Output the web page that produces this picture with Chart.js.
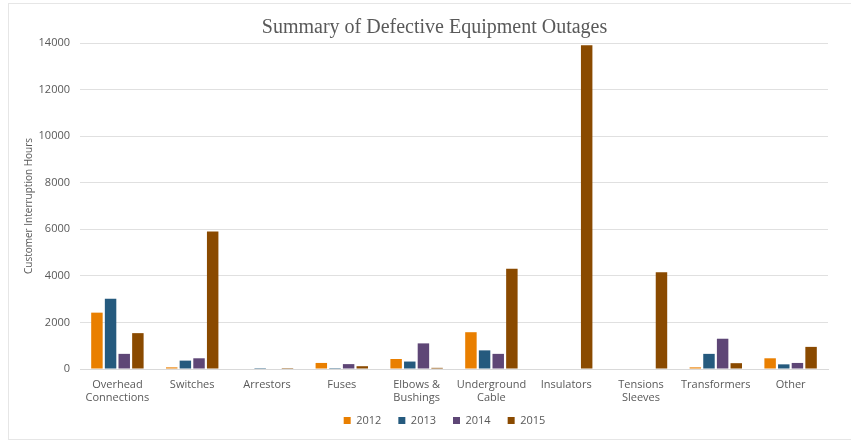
<!DOCTYPE html>
<html>
<head>
<meta charset="utf-8">
<script src="https://cdn.jsdelivr.net/npm/chart.js@4"></script>
<style>
  html, body { margin: 0; padding: 0; background: #fff; }
  #frame { position: absolute; left: 8px; top: 3px; width: 850px; height: 437px; border: 1px solid #e6e6e6; box-sizing: border-box; }
  #wrap { position: absolute; left: 0; top: 0; width: 851px; height: 442px; }
</style>
</head>
<body>
<div id="frame"></div>
<div id="wrap"><canvas id="c" width="851" height="442"></canvas></div>
<script>
const categories = [
  ["Overhead", "Connections"], "Switches", "Arrestors", "Fuses", ["Elbows &", "Bushings"],
  ["Underground", "Cable"], "Insulators", ["Tensions", "Sleeves"], "Transformers", "Other"
];
const seriesNames = ["2012", "2013", "2014", "2015"];
const values2012 = [2420, 70, 0, 260, 430, 1580, 0, 0, 70, 460];
const values2013 = [3020, 360, 40, 40, 320, 800, 0, 0, 650, 200];
const values2014 = [650, 460, 0, 210, 1100, 650, 0, 0, 1300, 260];
const values2015 = [1540, 5900, 40, 120, 50, 4300, 13900, 4150, 250, 950];
const yTicks = [0, 2000, 4000, 6000, 8000, 10000, 12000, 14000];
const colors = ["#E97F00", "#255A7E", "#5E4676", "#8A4A00"];

const allValues = [values2012, values2013, values2014, values2015];
const textColor = "#595959";

// Let x-axis labels overflow their (compact) box and nudge the legend to the right
const layoutTweak = {
  id: "layoutTweak",
  afterLayout(chart) {
    const x = chart.scales.x;
    if (x) x.bottom = chart.height;
    const lg = chart.legend;
    if (lg) { lg.left += 10; lg.right += 10; }
  }
};

new Chart(document.getElementById("c"), {
  type: "bar",
  data: {
    labels: categories,
    datasets: seriesNames.map((n, i) => ({
      label: n,
      data: allValues[i],
      backgroundColor: colors[i],
      borderWidth: 0,
      categoryPercentage: 0.73,
      barPercentage: 0.84
    }))
  },
  plugins: [layoutTweak],
  options: {
    responsive: false,
    animation: false,
    layout: { padding: { left: 19, right: 1, top: 0, bottom: 6 } },
    plugins: {
      title: {
        display: true,
        text: "Summary of Defective Equipment Outages",
        color: textColor,
        font: { family: "Liberation Serif", size: 20, weight: "normal" },
        padding: { top: 16, bottom: 3 }
      },
      legend: {
        position: "bottom",
        labels: {
          boxWidth: 7, boxHeight: 7, color: textColor,
          font: { family: "Open Sans", size: 11 },
          padding: 17
        }
      },
      tooltip: { enabled: false }
    },
    scales: {
      x: {
        grid: { display: false, drawTicks: false },
        border: { color: "#d9d9d9", width: 1 },
        afterFit: (s) => { s.height = 29; },
        ticks: {
          color: textColor, font: { family: "Open Sans", size: 11 },
          padding: 9, maxRotation: 0, autoSkip: false
        }
      },
      y: {
        min: 0, max: 14000,
        afterBuildTicks: (s) => { s.ticks = yTicks.map(v => ({ value: v })); },
        afterFit: (s) => { s.width = 61; },
        grid: { color: "#e0e0e0", drawTicks: false },
        border: { display: false },
        ticks: {
          color: textColor, font: { family: "Open Sans", size: 11 },
          padding: 10,
          callback: (v) => String(v)
        },
        title: {
          display: true, text: "Customer Interruption Hours", color: textColor,
          font: { family: "Open Sans", size: 10 },
          padding: { top: 4, bottom: 0 }
        }
      },
      yR: {
        type: "linear",
        position: "right",
        display: true,
        afterFit: (s) => { s.width = 22; },
        grid: { display: false, drawTicks: false },
        border: { display: false },
        ticks: { display: false }
      }
    }
  }
});
</script>
</body>
</html>
